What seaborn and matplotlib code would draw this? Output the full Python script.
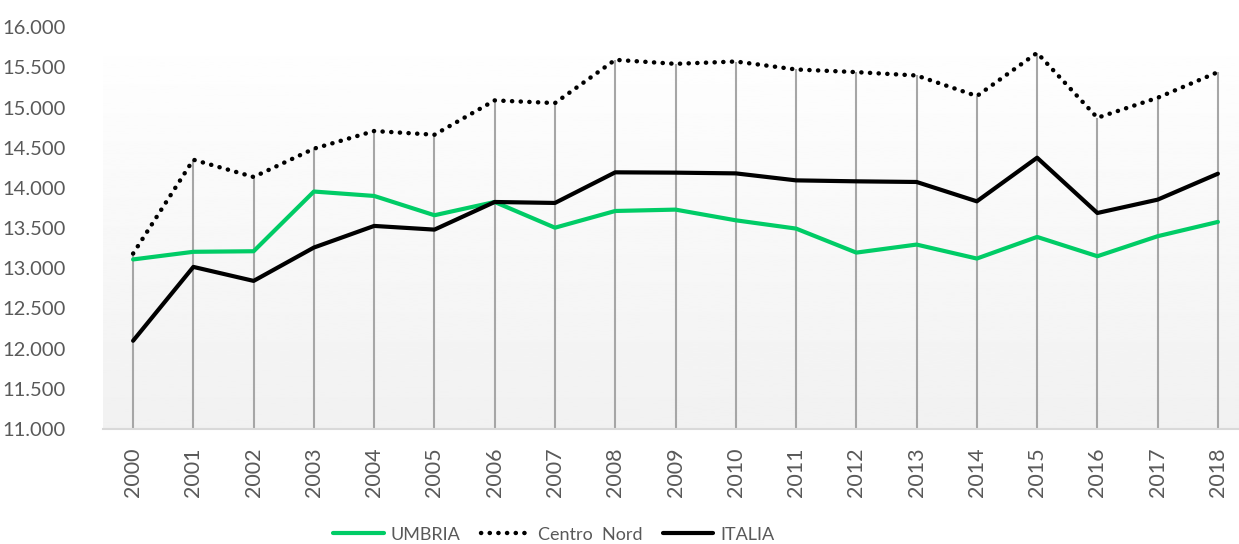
import numpy as np
import pandas as pd
import matplotlib
matplotlib.use("Agg")
import matplotlib.pyplot as plt
from matplotlib.ticker import FuncFormatter
from matplotlib.lines import Line2D
import seaborn as sns

years = list(range(2000, 2019))
umbria = [13110, 13205, 13212, 13955, 13900, 13660, 13825, 13505, 13713, 13730,
          13597, 13494, 13195, 13295, 13121, 13390, 13150, 13399, 13577]
centro_nord = [13183, 14351, 14136, 14488, 14708, 14662, 15089, 15056, 15594, 15544,
               15573, 15474, 15441, 15399, 15143, 15681, 14873, 15122, 15441]
italia = [12098, 13017, 12843, 13258, 13527, 13481, 13825, 13813, 14194, 14190,
          14181, 14094, 14082, 14074, 13833, 14376, 13688, 13854, 14177]
series_names = ["UMBRIA", "Centro  Nord", "ITALIA"]

df = pd.DataFrame({"anno": years, "UMBRIA": umbria,
                   "Centro  Nord": centro_nord, "ITALIA": italia})
df["pos"] = np.arange(len(years))

sns.set_style("white")
plt.rcParams["font.family"] = ["Lato", "DejaVu Sans"]

fig = plt.figure(figsize=(12.39, 5.44), dpi=100)
ax = fig.add_axes([0.0831, 0.2114, 0.9169, 0.7386])

# sfondo sfumato dell'area del grafico
grad = np.linspace(1.0, 0.945, 256).reshape(-1, 1)
ax.imshow(grad, extent=[-0.5, 18.35, 11000, 16000], aspect="auto",
          cmap="gray", vmin=0, vmax=1, zorder=0, origin="upper")

# linee di riferimento (drop lines)
top = df[["UMBRIA", "Centro  Nord", "ITALIA"]].max(axis=1)
ax.vlines(df["pos"], 11000, top, color="#a6a6a6", lw=1.5, zorder=1)

green = "#00cc66"
sns.lineplot(data=df, x="pos", y="UMBRIA", color=green, lw=3, ax=ax, zorder=3)
sns.lineplot(data=df, x="pos", y="Centro  Nord", color="black", lw=3.2,
             linestyle=(0, (0.05, 1.9)), dash_capstyle="round", ax=ax, zorder=3)
sns.lineplot(data=df, x="pos", y="ITALIA", color="black", lw=3, ax=ax, zorder=3)

ax.set_xlim(-0.5, 18.35)
ax.set_ylim(11000, 16000)
ax.set_yticks(np.arange(11000, 16001, 500))
ax.yaxis.set_major_formatter(FuncFormatter(lambda v, p: f"{v:,.0f}".replace(",", ".")))
ax.set_xticks(df["pos"])
ax.set_xticklabels([str(y) for y in years], rotation=90)
ax.tick_params(axis="both", length=0, labelcolor="#595959")
ax.tick_params(axis="y", pad=27, labelsize=14.5)
ax.tick_params(axis="x", pad=13, labelsize=15.5)
ax.set_xlabel("")
ax.set_ylabel("")

for s in ["top", "right", "left"]:
    ax.spines[s].set_visible(False)
ax.spines["bottom"].set_color("#d9d9d9")
ax.spines["bottom"].set_linewidth(1.5)

handles = [
    Line2D([], [], color=green, lw=3),
    Line2D([], [], color="black", lw=3.2, linestyle=(0, (0.05, 1.9)), dash_capstyle="round"),
    Line2D([], [], color="black", lw=3),
]
fig.legend(handles, series_names, loc="center", bbox_to_anchor=(0.447, 0.017),
           ncol=3, frameon=False, fontsize=13, handlelength=2.8, columnspacing=1.1,
           handletextpad=0.4, labelcolor="#595959")

fig.savefig("out.png", dpi=100)
